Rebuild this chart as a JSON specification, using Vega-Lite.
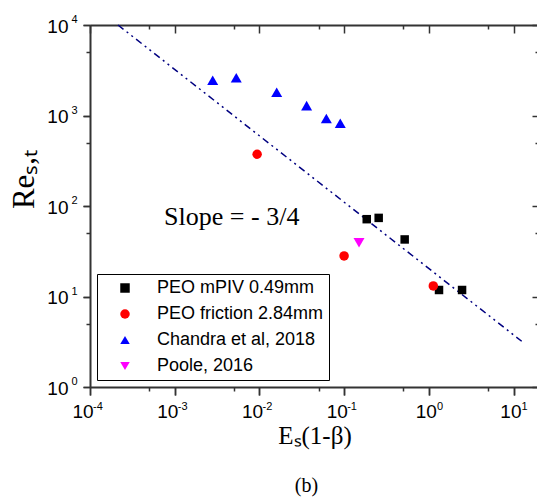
{
  "$schema": "https://vega.github.io/schema/vega-lite/v6.json",
  "autosize": "none",
  "width": 449,
  "height": 362,
  "padding": {"left": 90, "top": 25, "right": 0, "bottom": 110},
  "background": "white",
  "title": {"text": "(b)", "orient": "bottom", "anchor": "middle", "font": "Liberation Serif", "fontSize": 20, "fontWeight": "normal", "color": "black", "offset": 28, "dx": -8},
  "config": {
    "view": {"stroke": null},
    "axis": {"grid": false, "domainColor": "#333", "domainWidth": 2, "tickColor": "#333", "tickWidth": 1.5, "labelFont": "Liberation Sans", "labelFontSize": 19, "labelColor": "black", "labelFlush": false, "labelOverlap": false, "labelBound": false}
  },
  "datasets": {
    "pts": [
      {"series": "PEO mPIV 0.49mm", "x": 0.185, "y": 71.5},
      {"series": "PEO mPIV 0.49mm", "x": 0.256, "y": 73.9},
      {"series": "PEO mPIV 0.49mm", "x": 0.519, "y": 42.7},
      {"series": "PEO mPIV 0.49mm", "x": 1.32, "y": 11.8},
      {"series": "PEO mPIV 0.49mm", "x": 2.47, "y": 11.8},
      {"series": "PEO friction 2.84mm", "x": 0.0094, "y": 373},
      {"series": "PEO friction 2.84mm", "x": 0.1, "y": 28.1},
      {"series": "PEO friction 2.84mm", "x": 1.13, "y": 13.1},
      {"series": "Chandra et al, 2018", "x": 0.00281, "y": 2447},
      {"series": "Chandra et al, 2018", "x": 0.00533, "y": 2620},
      {"series": "Chandra et al, 2018", "x": 0.016, "y": 1803},
      {"series": "Chandra et al, 2018", "x": 0.0361, "y": 1286},
      {"series": "Chandra et al, 2018", "x": 0.0617, "y": 924},
      {"series": "Chandra et al, 2018", "x": 0.0901, "y": 820},
      {"series": "Poole, 2016", "x": 0.15, "y": 39.2}
    ],
    "fit": [
      {"x": 0.000214, "y": 10000},
      {"x": 12.5, "y": 3.2}
    ],
    "note": [
      {"x": 0.00075, "y": 61.4, "label": "Slope = - 3/4"}
    ]
  },
  "resolve": {"axis": {"x": "independent", "y": "independent"}},
  "layer": [
    {
      "data": {"name": "fit"},
      "mark": {"type": "line", "color": "#000080", "strokeWidth": 1.5, "strokeDash": [7, 4, 2, 4, 2, 4]},
      "encoding": {
        "x": {"field": "x", "type": "quantitative", "scale": {"type": "log", "domain": [0.0001, 20], "nice": false},
              "axis": {"orient": "top", "values": [0.0001, 0.001, 0.01, 0.1, 1, 10], "tickSize": -8, "labels": false, "title": null, "domain": true}},
        "y": {"field": "y", "type": "quantitative", "scale": {"type": "log", "domain": [1, 10000], "nice": false},
              "axis": {"orient": "right", "values": [1, 10, 100, 1000, 10000], "tickSize": -7, "labels": false, "title": null, "domain": true}}
      }
    },
    {
      "data": {"name": "pts"},
      "transform": [{"filter": "datum.series == 'PEO mPIV 0.49mm' || datum.series == 'PEO friction 2.84mm'"}],
      "mark": {"type": "point", "filled": true, "opacity": 1},
      "encoding": {
        "x": {"field": "x", "type": "quantitative", "scale": {"type": "log", "domain": [0.0001, 20], "nice": false},
              "axis": {"orient": "bottom", "values": [0.0001, 0.001, 0.01, 0.1, 1, 10], "tickSize": 8, "labelPadding": 7, "labelAlign": "center",
                       "labelOffset": {"condition": {"test": "datum.value < 0.5", "value": -7.4}, "value": -3.1},
                       "labelExpr": "'10'",
                       "title": "Eₛ(1-β)", "titleFont": "Liberation Serif", "titleFontSize": 25, "titleFontWeight": "normal", "titleColor": "black", "titleBaseline": "alphabetic", "titleY": 56}},
        "y": {"field": "y", "type": "quantitative", "scale": {"type": "log", "domain": [1, 10000], "nice": false},
              "axis": {"orient": "left", "values": [1, 10, 100, 1000, 10000], "tickSize": 7, "labelPadding": 15, "labelOffset": 1, "labelBaseline": "middle",
                       "labelExpr": "'10'",
                       "title": "Reₛ,ₜ", "titleFont": "Liberation Serif", "titleFontSize": 31, "titleFontWeight": "normal", "titleColor": "black", "titleBaseline": "alphabetic", "titleX": -57, "titleY": 154, "titleAngle": 270}},
        "color": {"field": "series", "type": "nominal",
                  "scale": {"domain": ["PEO mPIV 0.49mm", "PEO friction 2.84mm", "Chandra et al, 2018", "Poole, 2016"], "range": ["#000000", "#ff0000", "#0000ff", "#ff00ff"]},
                  "legend": {"orient": "none", "legendX": 7, "legendY": 249, "title": null, "strokeColor": "#000", "padding": 5, "symbolOffset": 14, "labelOffset": 23, "rowPadding": 8, "labelFont": "Liberation Sans", "labelFontSize": 18, "labelColor": "black", "labelLimit": 400, "symbolSize": 90, "symbolStrokeWidth": 0, "symbolOpacity": 1, "fillColor": "white"}},
        "shape": {"field": "series", "type": "nominal",
                  "scale": {"domain": ["PEO mPIV 0.49mm", "PEO friction 2.84mm", "Chandra et al, 2018", "Poole, 2016"], "range": ["square", "circle", "triangle-up", "triangle-down"]},
                  "legend": {"orient": "none", "legendX": 7, "legendY": 249, "title": null}},
        "size": {"condition": {"test": "datum.series == 'PEO mPIV 0.49mm'", "value": 72}, "value": 90}
      }
    },
    {
      "data": {"name": "pts"},
      "transform": [{"filter": "datum.series == 'Chandra et al, 2018'"}],
      "mark": {"type": "point", "filled": true, "opacity": 1, "size": 121},
      "encoding": {
        "x": {"field": "x", "type": "quantitative", "scale": {"type": "log", "domain": [0.0001, 20], "nice": false},
              "axis": {"orient": "bottom", "values": [0.0005, 0.005, 0.05, 0.5, 5], "tickSize": 4, "labels": false, "title": null, "domain": false}},
        "y": {"field": "y", "type": "quantitative", "scale": {"type": "log", "domain": [1, 10000], "nice": false},
              "axis": {"orient": "left", "values": [5, 50, 500, 5000], "tickSize": 4, "labels": false, "title": null, "domain": false}},
        "color": {"field": "series", "type": "nominal",
                  "scale": {"domain": ["PEO mPIV 0.49mm", "PEO friction 2.84mm", "Chandra et al, 2018", "Poole, 2016"], "range": ["#000000", "#ff0000", "#0000ff", "#ff00ff"]}},
        "shape": {"field": "series", "type": "nominal",
                  "scale": {"domain": ["PEO mPIV 0.49mm", "PEO friction 2.84mm", "Chandra et al, 2018", "Poole, 2016"], "range": ["square", "circle", "triangle-up", "triangle-down"]}}
      }
    },
    {
      "data": {"name": "pts"},
      "transform": [{"filter": "datum.series == 'Poole, 2016'"}],
      "mark": {"type": "point", "filled": true, "opacity": 1, "size": 121},
      "encoding": {
        "x": {"field": "x", "type": "quantitative", "scale": {"type": "log", "domain": [0.0001, 20], "nice": false},
              "axis": {"orient": "bottom", "values": [0.0001, 0.001, 0.01, 0.1, 1, 10], "tickSize": 8, "labelFontSize": 11, "labelAlign": "left", "labelPadding": 5,
                       "labelOffset": {"condition": {"test": "datum.value < 0.5", "value": 2.6}, "value": 7.6},
                       "labelExpr": "datum.value < 0.0005 ? '-4' : datum.value < 0.005 ? '-3' : datum.value < 0.05 ? '-2' : datum.value < 0.5 ? '-1' : datum.value < 5 ? '0' : '1'",
                       "title": null, "domain": false}},
        "y": {"field": "y", "type": "quantitative", "scale": {"type": "log", "domain": [1, 10000], "nice": false},
              "axis": {"orient": "left", "values": [1, 10, 100, 1000, 10000], "tickSize": 7, "labelFontSize": 11, "labelAlign": "right", "labelBaseline": "middle", "labelPadding": 6, "labelOffset": -5.5,
                       "labelExpr": "datum.value < 5 ? '0' : datum.value < 50 ? '1' : datum.value < 500 ? '2' : datum.value < 5000 ? '3' : '4'",
                       "title": null, "domain": false}},
        "color": {"field": "series", "type": "nominal",
                  "scale": {"domain": ["PEO mPIV 0.49mm", "PEO friction 2.84mm", "Chandra et al, 2018", "Poole, 2016"], "range": ["#000000", "#ff0000", "#0000ff", "#ff00ff"]}},
        "shape": {"field": "series", "type": "nominal",
                  "scale": {"domain": ["PEO mPIV 0.49mm", "PEO friction 2.84mm", "Chandra et al, 2018", "Poole, 2016"], "range": ["square", "circle", "triangle-up", "triangle-down"]}}
      }
    },
    {
      "data": {"name": "note"},
      "mark": {"type": "text", "font": "Liberation Serif", "fontSize": 26, "align": "left", "baseline": "alphabetic", "color": "black"},
      "encoding": {
        "x": {"field": "x", "type": "quantitative", "scale": {"type": "log", "domain": [0.0001, 20], "nice": false},
              "axis": {"orient": "top", "values": [0.0005, 0.005, 0.05, 0.5, 5], "tickSize": -4, "labels": false, "title": null, "domain": false}},
        "y": {"field": "y", "type": "quantitative", "scale": {"type": "log", "domain": [1, 10000], "nice": false},
              "axis": {"orient": "right", "values": [5, 50, 500, 5000], "tickSize": -4, "labels": false, "title": null, "domain": false}},
        "text": {"field": "label"}
      }
    }
  ]
}
